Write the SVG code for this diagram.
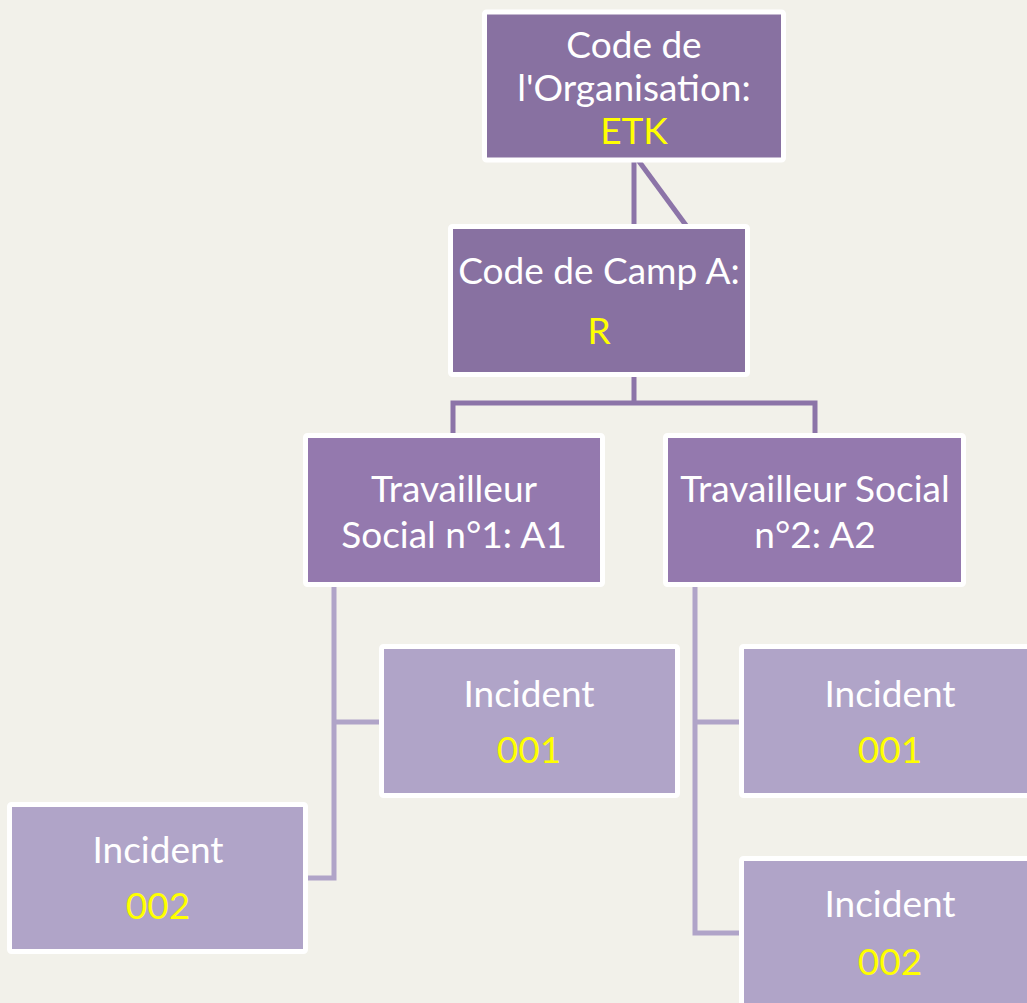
<svg xmlns="http://www.w3.org/2000/svg" width="1027" height="1003" viewBox="0 0 1027 1003">
<style>
.box{stroke:#ffffff;stroke-width:5}
.dark{fill:#8871a1}
.mid{fill:#9479ae}
.light{fill:#b0a4c8}
.t{font-family:Lato,"Liberation Sans",sans-serif;font-size:37px;fill:#ffffff;text-anchor:middle}
.y{fill:#ffff00}
.c1{fill:none;stroke:#8c74a8;stroke-width:5}
.c2{fill:none;stroke:#b0a4c8;stroke-width:5}
</style>
<rect width="1027" height="1003" fill="#f2f1ea"/>
<g id="connectors">
<path class="c1" d="M634,160 V228"/>
<path class="c1" d="M638,160 L688,228"/>
<path class="c1" d="M634,377 V403 H453 V436 M634,403 H815 V436"/>
<path class="c2" d="M334,587 V878 H308 M334,722 H380"/>
<path class="c2" d="M695,587 V933 H740 M695,722 H740"/>
</g>
<g id="org">
<rect class="box dark" x="484.5" y="12" width="299" height="148" rx="2"/>
<text class="t" x="634" y="58">Code de</text>
<text class="t" x="634" y="101">l'Organisation:</text>
<text class="t y" x="634" y="144">ETK</text>
</g>
<g id="camp">
<rect class="box dark" x="450.5" y="226.5" width="297" height="148" rx="2"/>
<text class="t" x="599" y="284">Code de Camp A:</text>
<text class="t y" x="599" y="344">R</text>
</g>
<g id="ts1">
<rect class="box mid" x="305.5" y="435.5" width="297" height="149" rx="2"/>
<text class="t" x="454" y="502">Travailleur</text>
<text class="t" x="454" y="548">Social n°1: A1</text>
</g>
<g id="ts2">
<rect class="box mid" x="665.5" y="435.5" width="298" height="149" rx="2"/>
<text class="t" x="815" y="502">Travailleur Social</text>
<text class="t" x="815" y="548">n°2: A2</text>
</g>
<g id="inc1a">
<rect class="box light" x="381.5" y="646.5" width="296" height="149" rx="2"/>
<text class="t" x="529" y="707">Incident</text>
<text class="t y" x="529" y="763">001</text>
</g>
<g id="inc2a">
<rect class="box light" x="9.5" y="804.5" width="296" height="147" rx="2"/>
<text class="t" x="158" y="863">Incident</text>
<text class="t y" x="158" y="919">002</text>
</g>
<g id="inc1b">
<rect class="box light" x="741.5" y="646.5" width="298" height="149" rx="2"/>
<text class="t" x="890" y="707">Incident</text>
<text class="t y" x="890" y="763">001</text>
</g>
<g id="inc2b">
<rect class="box light" x="741.5" y="858.5" width="298" height="160" rx="2"/>
<text class="t" x="890" y="917">Incident</text>
<text class="t y" x="890" y="975">002</text>
</g>
</svg>
